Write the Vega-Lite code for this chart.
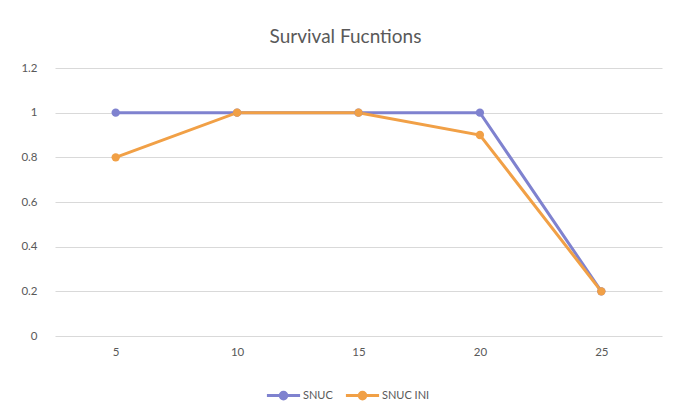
{
  "$schema": "https://vega.github.io/schema/vega-lite/v6.json",
  "width": 607,
  "height": 268,
  "autosize": {"type": "none"},
  "padding": {"left": 55, "top": 68, "right": 21, "bottom": 70},
  "background": "white",
  "title": {
    "text": "Survival Fucntions",
    "fontSize": 19,
    "font": "Lato",
    "fontWeight": "normal",
    "color": "#595959",
    "offset": 15,
    "dx": -13
  },
  "config": {
    "view": {"stroke": null},
    "font": "Lato",
    "axis": {
      "labelColor": "#595959",
      "labelFontSize": 11.5,
      "labelFont": "Lato",
      "title": null,
      "domain": false,
      "ticks": false,
      "gridColor": "#d9d9d9",
      "gridWidth": 1
    }
  },
  "data": {
    "values": [
      {"t": "5", "series": "SNUC", "s": 1},
      {"t": "10", "series": "SNUC", "s": 1},
      {"t": "15", "series": "SNUC", "s": 1},
      {"t": "20", "series": "SNUC", "s": 1},
      {"t": "25", "series": "SNUC", "s": 0.2},
      {"t": "5", "series": "SNUC INI", "s": 0.8},
      {"t": "10", "series": "SNUC INI", "s": 1},
      {"t": "15", "series": "SNUC INI", "s": 1},
      {"t": "20", "series": "SNUC INI", "s": 0.9},
      {"t": "25", "series": "SNUC INI", "s": 0.2}
    ]
  },
  "encoding": {
    "x": {
      "field": "t",
      "type": "ordinal",
      "sort": null,
      "scale": {"type": "point", "padding": 0.5},
      "axis": {"labelAngle": 0, "grid": false, "labelPadding": 10, "domain": false}
    },
    "y": {
      "field": "s",
      "type": "quantitative",
      "scale": {"domain": [0, 1.2]},
      "axis": {"values": [0, 0.2, 0.4, 0.6, 0.8, 1, 1.2], "labelPadding": 18, "format": "~g"}
    },
    "color": {
      "field": "series",
      "type": "nominal",
      "scale": {"domain": ["SNUC", "SNUC INI"], "range": ["#7f82cf", "#f1a046"]},
      "legend": {
        "title": null,
        "orient": "none",
        "direction": "horizontal",
        "legendX": 210,
        "legendY": 309,
        "symbolType": "M-1,0L1,0M-0.2,0A0.2,0.2 0 1,1 0.2,0A0.2,0.2 0 1,1 -0.2,0Z",
        "symbolSize": 1100,
        "symbolStrokeWidth": 3,
        "labelFontSize": 11,
        "labelColor": "#595959",
        "labelOffset": 1,
        "columnPadding": 6
      }
    }
  },
  "layer": [
    {"mark": {"type": "line", "strokeWidth": 3}},
    {"mark": {"type": "point", "filled": true, "size": 70, "opacity": 1}}
  ]
}
